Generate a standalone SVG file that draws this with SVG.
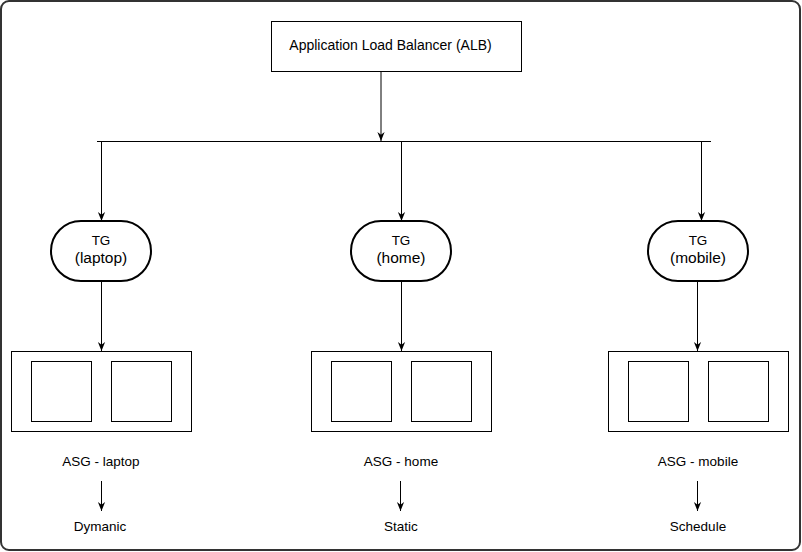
<svg xmlns="http://www.w3.org/2000/svg" width="802" height="552" viewBox="0 0 802 552">
<style>
.box{fill:#fff;stroke:#000;stroke-width:1}
.tg{fill:#fff;stroke:#000;stroke-width:2}
.t{font-family:"Liberation Sans",Arial,sans-serif;fill:#000;text-anchor:middle}
.c{fill:none;stroke:#000;stroke-width:1}
</style>
<defs>
<marker id="ah" viewBox="0 0 10 10" refX="10" refY="5" markerWidth="9" markerHeight="9" markerUnits="userSpaceOnUse" orient="auto">
<path d="M0,1 L10,5 L0,9 L3,5 z" fill="#000"/>
</marker>
<marker id="ahg" viewBox="0 0 10 10" refX="10" refY="5" markerWidth="9" markerHeight="9" markerUnits="userSpaceOnUse" orient="auto">
<path d="M0,1 L10,5 L0,9 L3,5 z" fill="#000"/>
</marker>
</defs>
<rect x="1" y="1" width="799" height="549" rx="8" fill="#fff" stroke="#333" stroke-width="2"/>
<g id="alb">
<rect class="box" x="271.5" y="21.5" width="250" height="50"/>
<text class="t" x="390.5" y="50" font-size="14">Application Load Balancer (ALB)</text>
</g>
<g id="connectors">
<line class="c" x1="381" y1="72" x2="381" y2="141" marker-end="url(#ah)"/>
<line class="c" x1="97" y1="141.5" x2="711" y2="141.5"/>
<line class="c" x1="101.5" y1="141.5" x2="101.5" y2="221" marker-end="url(#ah)"/>
<line class="c" x1="401.5" y1="141.5" x2="401.5" y2="221" marker-end="url(#ah)"/>
<line class="c" x1="701.5" y1="141.5" x2="701.5" y2="221" marker-end="url(#ah)"/>
<line class="c" x1="101.5" y1="281" x2="101.5" y2="351" marker-end="url(#ah)"/>
<line class="c" x1="401.5" y1="281" x2="401.5" y2="351" marker-end="url(#ah)"/>
<line class="c" x1="697.5" y1="281" x2="697.5" y2="351" stroke="#555" marker-end="url(#ahg)"/>
<line class="c" x1="101.5" y1="481" x2="101.5" y2="511" marker-end="url(#ah)"/>
<line class="c" x1="400.5" y1="481" x2="400.5" y2="511" stroke="#333" marker-end="url(#ah)"/>
<line class="c" x1="697.5" y1="481" x2="697.5" y2="511" stroke="#555" marker-end="url(#ahg)"/>
</g>
<g id="tg-laptop">
<rect class="tg" x="51" y="221" width="100" height="60" rx="30"/>
<text class="t" x="101" y="245" font-size="13.5">TG</text>
<text class="t" x="101" y="263" font-size="15.5">(laptop)</text>
</g>
<g id="tg-home">
<rect class="tg" x="351" y="221" width="100" height="60" rx="30"/>
<text class="t" x="401" y="245" font-size="13.5">TG</text>
<text class="t" x="401" y="263" font-size="15.5">(home)</text>
</g>
<g id="tg-mobile">
<rect class="tg" x="648" y="221" width="100" height="60" rx="30"/>
<text class="t" x="698" y="245" font-size="13.5">TG</text>
<text class="t" x="698" y="263" font-size="15.5">(mobile)</text>
</g>
<g id="asg-laptop">
<rect class="box" x="11.5" y="351.5" width="180" height="80"/>
<rect class="box" x="31.5" y="361.5" width="60" height="60"/>
<rect class="box" x="111.5" y="361.5" width="60" height="60"/>
<text class="t" x="101" y="466" font-size="13.5">ASG - laptop</text>
</g>
<g id="asg-home">
<rect class="box" x="311.5" y="351.5" width="180" height="80"/>
<rect class="box" x="331.5" y="361.5" width="60" height="60"/>
<rect class="box" x="411.5" y="361.5" width="60" height="60"/>
<text class="t" x="401" y="466" font-size="13.5">ASG - home</text>
</g>
<g id="asg-mobile">
<rect class="box" x="608.5" y="351.5" width="180" height="80"/>
<rect class="box" x="628.5" y="361.5" width="60" height="60"/>
<rect class="box" x="708.5" y="361.5" width="60" height="60"/>
<text class="t" x="698" y="466" font-size="13.5">ASG - mobile</text>
</g>
<g id="dynamic">
<text class="t" x="100" y="531" font-size="13.5">Dymanic</text>
</g>
<g id="static">
<text class="t" x="401" y="531" font-size="13.5">Static</text>
</g>
<g id="schedule">
<text class="t" x="698" y="531" font-size="13.5">Schedule</text>
</g>
</svg>
